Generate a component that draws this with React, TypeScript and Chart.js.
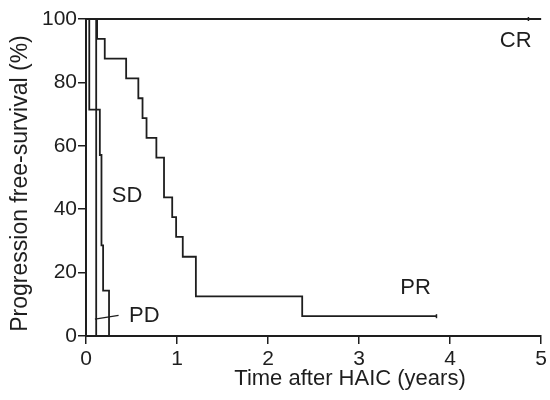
import React, { useEffect, useRef } from "react";
import { Chart, registerables } from "chart.js";

Chart.register(...registerables);

// Kaplan–Meier curves (time in years, progression-free survival in %)
const crTimes = [0, 4.86, 5];
const crSurv = [100, 100, 100];

const prTimes = [0, 0.122, 0.206, 0.441, 0.575, 0.621, 0.665, 0.773, 0.857, 0.947, 0.99, 1.063, 1.207, 2.375, 3.85];
const prSurv = [100, 93.75, 87.5, 81.25, 75, 68.75, 62.5, 56.25, 43.75, 37.5, 31.25, 25, 12.5, 6.25, 6.25];

const sdTimes = [0, 0.036, 0.152, 0.17, 0.188, 0.253];
const sdSurv = [100, 71.4, 57.1, 28.6, 14.3, 0];

const pdTimes = [0, 0.112];
const pdSurv = [100, 0];

// censor marks (index into each curve)
const crCensor = [1];
const prCensor = [14];

// tick values
const xTicks = [0, 1, 2, 3, 4, 5];
const yTicks = [0, 20, 40, 60, 80, 100];

// curve labels: [text, x, y]
const curveLabels: [string, number, number][] = [
  ["CR", 4.72, 93.2],
  ["PR", 3.62, 15.1],
  ["SD", 0.452, 44.2],
  ["PD", 0.64, 6.3],
];
// leader line for PD label
const pdLeaderX = [0.098, 0.358];
const pdLeaderY = [5.3, 6.5];

const xTitle = "Time after HAIC (years)";
const yTitle = "Progression free-survival (%)";

const INK = "#1e1e1e";
const FONT = "'Liberation Sans', Arial, sans-serif";

function pts(t: number[], s: number[]) {
  return t.map((v, i) => ({ x: v, y: s[i] }));
}

function curve(t: number[], s: number[], censor: number[]) {
  return {
    data: pts(t, s),
    stepped: true as const,
    borderColor: INK,
    borderWidth: 1.8,
    fill: false,
    clip: false as const,
    pointStyle: "line" as const,
    rotation: 90,
    pointBorderColor: INK,
    pointBorderWidth: 1.5,
    pointRadius: t.map((_, i) => (censor.includes(i) ? 2 : 0)),
    pointHoverRadius: 0,
  };
}

const annotations = {
  id: "annotations",
  afterDraw(chart: any) {
    const { ctx, scales } = chart;
    const x = scales.x;
    const y = scales.y;
    ctx.save();
    ctx.fillStyle = INK;
    ctx.strokeStyle = INK;
    ctx.font = `22px ${FONT}`;
    ctx.textAlign = "center";
    ctx.textBaseline = "middle";
    for (const [txt, lx, ly] of curveLabels) {
      ctx.fillText(txt, x.getPixelForValue(lx), y.getPixelForValue(ly));
    }
    ctx.lineWidth = 1.3;
    ctx.beginPath();
    ctx.moveTo(x.getPixelForValue(pdLeaderX[0]), y.getPixelForValue(pdLeaderY[0]));
    ctx.lineTo(x.getPixelForValue(pdLeaderX[1]), y.getPixelForValue(pdLeaderY[1]));
    ctx.stroke();

    // axis titles
    ctx.font = `22px ${FONT}`;
    ctx.textBaseline = "alphabetic";
    ctx.fillText(xTitle, 350, 385);
    ctx.save();
    ctx.translate(27, 183.5);
    ctx.rotate(-Math.PI / 2);
    ctx.font = `23px ${FONT}`;
    ctx.fillText(yTitle, 0, 0);
    ctx.restore();
    ctx.restore();
  },
};

export default function App() {
  const ref = useRef<HTMLCanvasElement | null>(null);
  useEffect(() => {
    if (!ref.current) return;
    const chart = new Chart(ref.current, {
      type: "line",
      data: {
        datasets: [
          curve(crTimes, crSurv, crCensor),
          curve(prTimes, prSurv, prCensor),
          curve(sdTimes, sdSurv, []),
          curve(pdTimes, pdSurv, []),
        ] as any,
      },
      options: {
        animation: false,
        responsive: false,
        devicePixelRatio: 1,
        layout: { padding: { left: 0, right: 2, top: 19, bottom: 0 } },
        plugins: { legend: { display: false }, tooltip: { enabled: false }, title: { display: false } },
        events: [],
        scales: {
          x: {
            type: "linear",
            min: 0,
            max: 5,
            afterBuildTicks: (s: any) => {
              s.ticks = xTicks.map((v) => ({ value: v }));
            },
            afterFit: (s: any) => {
              s.height = 64;
            },
            ticks: { color: INK, font: { family: FONT, size: 21 }, padding: 3, maxRotation: 0 },
            grid: { drawOnChartArea: false, drawTicks: true, tickLength: 8, color: INK, lineWidth: 1.5 },
            border: { display: true, color: INK, width: 2 },
          },
          y: {
            type: "linear",
            min: 0,
            max: 100,
            afterBuildTicks: (s: any) => {
              s.ticks = yTicks.map((v) => ({ value: v }));
            },
            afterFit: (s: any) => {
              s.width = 86;
            },
            ticks: { color: INK, font: { family: FONT, size: 21 }, padding: 1 },
            grid: { drawOnChartArea: false, drawTicks: true, tickLength: 8, color: INK, lineWidth: 1.5 },
            border: { display: true, color: INK, width: 2 },
          },
        },
      },
      plugins: [annotations],
    });
    return () => chart.destroy();
  }, []);
  return (
    <div style={{ position: "fixed", left: 0, top: 0, width: 550, height: 400, background: "#fff" }}>
      <canvas ref={ref} width={550} height={400} style={{ width: 550, height: 400 }} />
    </div>
  );
}
